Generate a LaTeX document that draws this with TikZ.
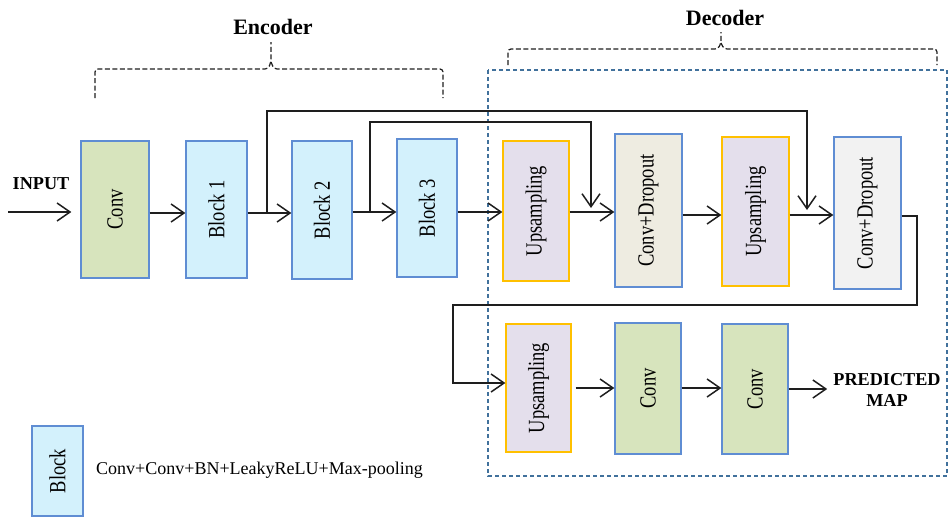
\documentclass[tikz,border=0pt]{standalone}
\usepackage{fontspec}
\setmainfont{Liberation Serif}
\usetikzlibrary{arrows.meta,calc}
\definecolor{blockfill}{HTML}{D3F1FC}
\definecolor{convfill}{HTML}{D7E4BD}
\definecolor{upfill}{HTML}{E4DFEC}
\definecolor{upedge}{HTML}{FFC000}
\definecolor{boxedge}{HTML}{5F8DD3}
\definecolor{cdfillA}{HTML}{EEECE1}
\definecolor{cdfillB}{HTML}{F2F2F2}
\definecolor{decedge}{HTML}{41719C}
\definecolor{wire}{HTML}{1E1E1E}
% vertical label, read from bottom to top, glyphs slightly stretched
\newcommand\stagelabel[1]{\rotatebox{90}{\scalebox{1}[1.25]{#1}}}
\begin{document}
\begin{tikzpicture}[x=1pt,y=-1pt,
  stage/.style 2 args={draw=boxedge, line width=1.3pt, inner sep=0pt,
    minimum width=#1, minimum height=#2,
    font=\fontsize{18.5}{20}\selectfont},
  blockbox/.style 2 args={stage={#1}{#2}, fill=blockfill},
  convbox/.style 2 args={stage={#1}{#2}, fill=convfill},
  upbox/.style 2 args={stage={#1}{#2}, fill=upfill, draw=upedge},
  arr/.style={draw=wire, line width=1.5pt,
    -{Straight Barb[length=13pt,width=18pt,line width=1.5pt]}},
  brace/.style={draw=wire, line width=1.2pt, dash pattern=on 5pt off 2.5pt,
    rounded corners=3pt},
  heading/.style={font=\fontsize{22}{24}\selectfont\bfseries},
  tag/.style={font=\fontsize{18.2}{21}\selectfont\bfseries, align=center, inner sep=2pt}
]
\useasboundingbox (0,0) rectangle (951,517);

% decoder frame
\draw[decedge, line width=1.3pt, dash pattern=on 4pt off 3pt]
  (488,70) rectangle (947,476);

% braces and their titles
\node[heading] (enc) at (273,27) {Encoder};
\draw[brace] (95,98) -- (95,69) -- (268,69) -- (271,62) -- (271,42);
\draw[brace] (271,62) -- (274,69) -- (443,69) -- (443,98);
\node[heading] (dec) at (725,18) {Decoder};
\draw[brace] (508,65) -- (508,49) -- (718,49) -- (721,43) -- (721,32);
\draw[brace] (721,43) -- (724,49) -- (937,49) -- (937,65);

% encoder stages
\node[convbox={68}{137}]  (conv1) at (115,209.5) {\stagelabel{Conv}};
\node[blockbox={61}{137}] (b1) at (216.5,209.5) {\stagelabel{Block 1}};
\node[blockbox={60}{138}] (b2) at (322,210) {\stagelabel{Block 2}};
\node[blockbox={60}{138}] (b3) at (427,208) {\stagelabel{Block 3}};

% decoder stages, upper row
\node[upbox={66}{140}] (up1) at (536,211) {\stagelabel{Upsampling}};
\node[stage={67}{153}, fill=cdfillA] (cd1) at (648.5,210.5) {\stagelabel{Conv+Dropout}};
\node[upbox={67}{149}] (up2) at (755.5,211.5) {\stagelabel{Upsampling}};
\node[stage={67}{152}, fill=cdfillB] (cd2) at (867.5,213) {\stagelabel{Conv+Dropout}};

% decoder stages, lower row
\node[upbox={65}{128}]   (up3) at (538.5,388) {\stagelabel{Upsampling}};
\node[convbox={66}{131}] (conv2) at (648,388.5) {\stagelabel{Conv}};
\node[convbox={66}{130}] (conv3) at (755,389) {\stagelabel{Conv}};

% input and output labels
\node[tag] (inlabel) at (41,184) {INPUT};
\node[tag] (pm) at (887,390) {PREDICTED\\MAP};

% legend
\node[blockbox={51}{90}] (legend) at (57.5,471) {\stagelabel{Block}};
\node[anchor=west, inner sep=0pt, font=\fontsize{18}{20}\selectfont]
  (legtext) at (96,470) {Conv+Conv+BN+LeakyReLU+Max-pooling};

% row heights of the main flow
\coordinate (rowA) at (0,213);
\coordinate (rowAb) at (0,212);
\coordinate (rowC) at (0,215);
\coordinate (rowB) at (0,388);

% main flow
\coordinate (inp) at (8,212);
\draw[arr] (inp) -- ($(conv1.west |- inp)+(-9,0)$);
\draw[arr] (conv1.east |- rowA) -- (b1.west |- rowA);
\draw[arr] (b1.east |- rowA) -- (b2.west |- rowA);
\draw[arr] (b2.east |- rowAb) -- (b3.west |- rowAb);
\draw[arr] (b3.east |- rowAb) -- (up1.west |- rowAb);
\draw[arr] (up1.east |- rowAb) -- (cd1.west |- rowAb);
\draw[arr] (cd1.east |- rowC) -- (up2.west |- rowC);
\draw[arr] (up2.east |- rowC) -- (cd2.west |- rowC);

% skip connections
\coordinate (s1) at (267,213);
\coordinate (t1) at (807,111);
\coordinate (e1) at (807,210);
\draw[arr] (s1) |- (t1) -- (e1);
\coordinate (s2) at (370,212);
\coordinate (t2) at (591,122);
\coordinate (e2) at (591,208);
\draw[arr] (s2) |- (t2) -- (e2);

% wrap from the upper row to the lower row
\coordinate (r1) at (917,305);
\coordinate (r2) at (453,383);
\draw[arr, line width=1.8pt] (cd2.east |- 0,216) -| (r1) -| (r2) -- (up3.west |- r2);

% lower row
\draw[arr] ($(up3.east |- rowB)+(4,0)$) -- (conv2.west |- rowB);
\draw[arr] (conv2.east |- rowB) -- (conv3.west |- rowB);
\draw[arr, shorten >=4pt] (conv3.east |- 0,389) -- (pm.west |- 0,389);
\end{tikzpicture}
\end{document}
